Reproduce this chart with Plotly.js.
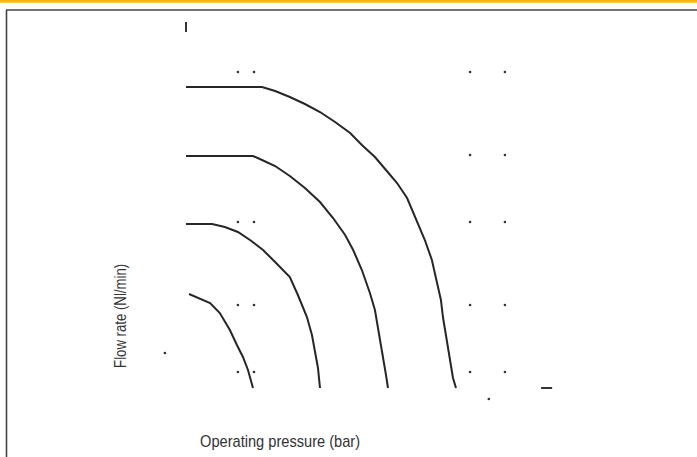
<!DOCTYPE html>
<html>
<head>
<meta charset="utf-8">
<script src="https://cdn.plot.ly/plotly-3.0.1.min.js"></script>
<style>html,body{margin:0;padding:0;background:#fff;}#chart{width:697px;height:457px;}</style>
</head>
<body>
<div id="chart"></div>
<script>
// Operating pressure (bar) and flow rate (Nl/min)
var curve1P = [0, 2.27, 2.66, 3.10, 3.55, 4.00, 4.45, 4.90, 5.25, 5.64, 5.97, 6.30, 6.60, 6.90, 7.13, 7.34, 7.49, 7.61, 7.67, 7.79, 7.88, 7.97, 8.06];
var curve1Q = [301, 301, 297, 291, 284, 276, 266, 255, 243, 231, 218, 205, 190, 167, 148, 128, 105, 88, 71, 48, 28, 10, 0];
var curve2P = [0, 2.00, 2.27, 2.66, 3.10, 3.55, 4.00, 4.39, 4.75, 4.99, 5.25, 5.49, 5.64, 5.73, 5.82, 5.88, 5.97, 6.03];
var curve2Q = [232, 232, 228, 222, 212, 200, 186, 170, 153, 138, 118, 95, 78, 61, 45, 31, 13, 0];
var curve3P = [0, 0.78, 1.16, 1.55, 1.91, 2.30, 2.66, 3.10, 3.34, 3.61, 3.76, 3.85, 3.94, 4.00];
var curve3Q = [164, 164, 161, 156, 148, 138, 126, 111, 93, 71, 53, 38, 20, 0];
var curve4P = [0.09, 0.42, 0.72, 1.01, 1.31, 1.52, 1.70, 1.85, 2.00];
var curve4Q = [94, 89, 85, 75, 58, 43, 31, 18, 0];
// scattered grid dots
var dotP = [1.55, 2.03, 8.48, 9.52, 8.48, 9.52, 1.55, 2.03, 8.48, 9.52, 1.55, 2.03, 8.48, 9.52, 1.55, 2.03, 8.48, 9.52, -0.63, 9.04];
var dotQ = [316, 316, 316, 316, 233, 233, 166, 166, 166, 166, 83, 83, 83, 83, 16, 16, 16, 16, 35, -11];
// small axis tick remnants
var tickVP = [0, 0];
var tickVQ = [356, 366];
var tickHP = [10.60, 10.93];
var tickHQ = [0, 0];

var xLabel = 'Operating pressure (bar)';
var yLabel = 'Flow rate (Nl/min)';

var lineStyle = {color: '#262626', width: 2};
function curve(p, q) {
  return {x: p, y: q, mode: 'lines', type: 'scatter', line: lineStyle, hoverinfo: 'skip', showlegend: false};
}
var data = [
  curve(curve1P, curve1Q),
  curve(curve2P, curve2Q),
  curve(curve3P, curve3Q),
  curve(curve4P, curve4Q),
  {x: dotP, y: dotQ, mode: 'markers', type: 'scatter', marker: {color: '#333', size: 2.6}, showlegend: false, hoverinfo: 'skip'},
  {x: tickVP, y: tickVQ, mode: 'lines', type: 'scatter', line: {color: '#333', width: 2}, showlegend: false, hoverinfo: 'skip'},
  {x: tickHP, y: tickHQ, mode: 'lines', type: 'scatter', line: {color: '#333', width: 2}, showlegend: false, hoverinfo: 'skip'}
];

var fontFam = '"Liberation Sans Narrow", "Arial Narrow", "Liberation Sans", sans-serif';
var layout = {
  width: 697, height: 457,
  margin: {l: 0, r: 0, t: 0, b: 0, pad: 0},
  paper_bgcolor: '#fff', plot_bgcolor: '#fff',
  showlegend: false,
  xaxis: {range: [-5.552, 15.254], visible: false, fixedrange: true},
  yaxis: {range: [-69, 388], visible: false, fixedrange: true},
  shapes: [
    {type: 'line', xref: 'paper', yref: 'paper', x0: 0, x1: 1, y0: 1 - 1.2/457, y1: 1 - 1.2/457, line: {color: '#F7BA00', width: 3}},
    {type: 'line', xref: 'paper', yref: 'paper', x0: 6/697, x1: 1, y0: 1 - 10/457, y1: 1 - 10/457, line: {color: '#444', width: 1.6}},
    {type: 'line', xref: 'paper', yref: 'paper', x0: 6.5/697, x1: 6.5/697, y0: 0, y1: 1 - 10/457, line: {color: '#444', width: 1.6}}
  ],
  annotations: [
    {text: xLabel, xref: 'paper', yref: 'paper', x: 280/697, y: 1 - 441/457, xanchor: 'center', yanchor: 'middle', showarrow: false, font: {family: fontFam, size: 17, color: '#333'}},
    {text: yLabel, xref: 'paper', yref: 'paper', x: 120/697, y: 1 - 316/457, xanchor: 'center', yanchor: 'middle', textangle: -90, showarrow: false, font: {family: fontFam, size: 16, color: '#333'}}
  ]
};
Plotly.newPlot('chart', data, layout, {displayModeBar: false, staticPlot: true}).then(function (gd) {
  // condense the label glyphs horizontally, like the narrow face in the reference
  var widths = [160, 104];
  var texts = gd.querySelectorAll('.annotation-text');
  texts.forEach(function (t, i) {
    if (widths[i]) {
      t.setAttribute('textLength', widths[i]);
      t.setAttribute('lengthAdjust', 'spacingAndGlyphs');
    }
  });
});
</script>
</body>
</html>
